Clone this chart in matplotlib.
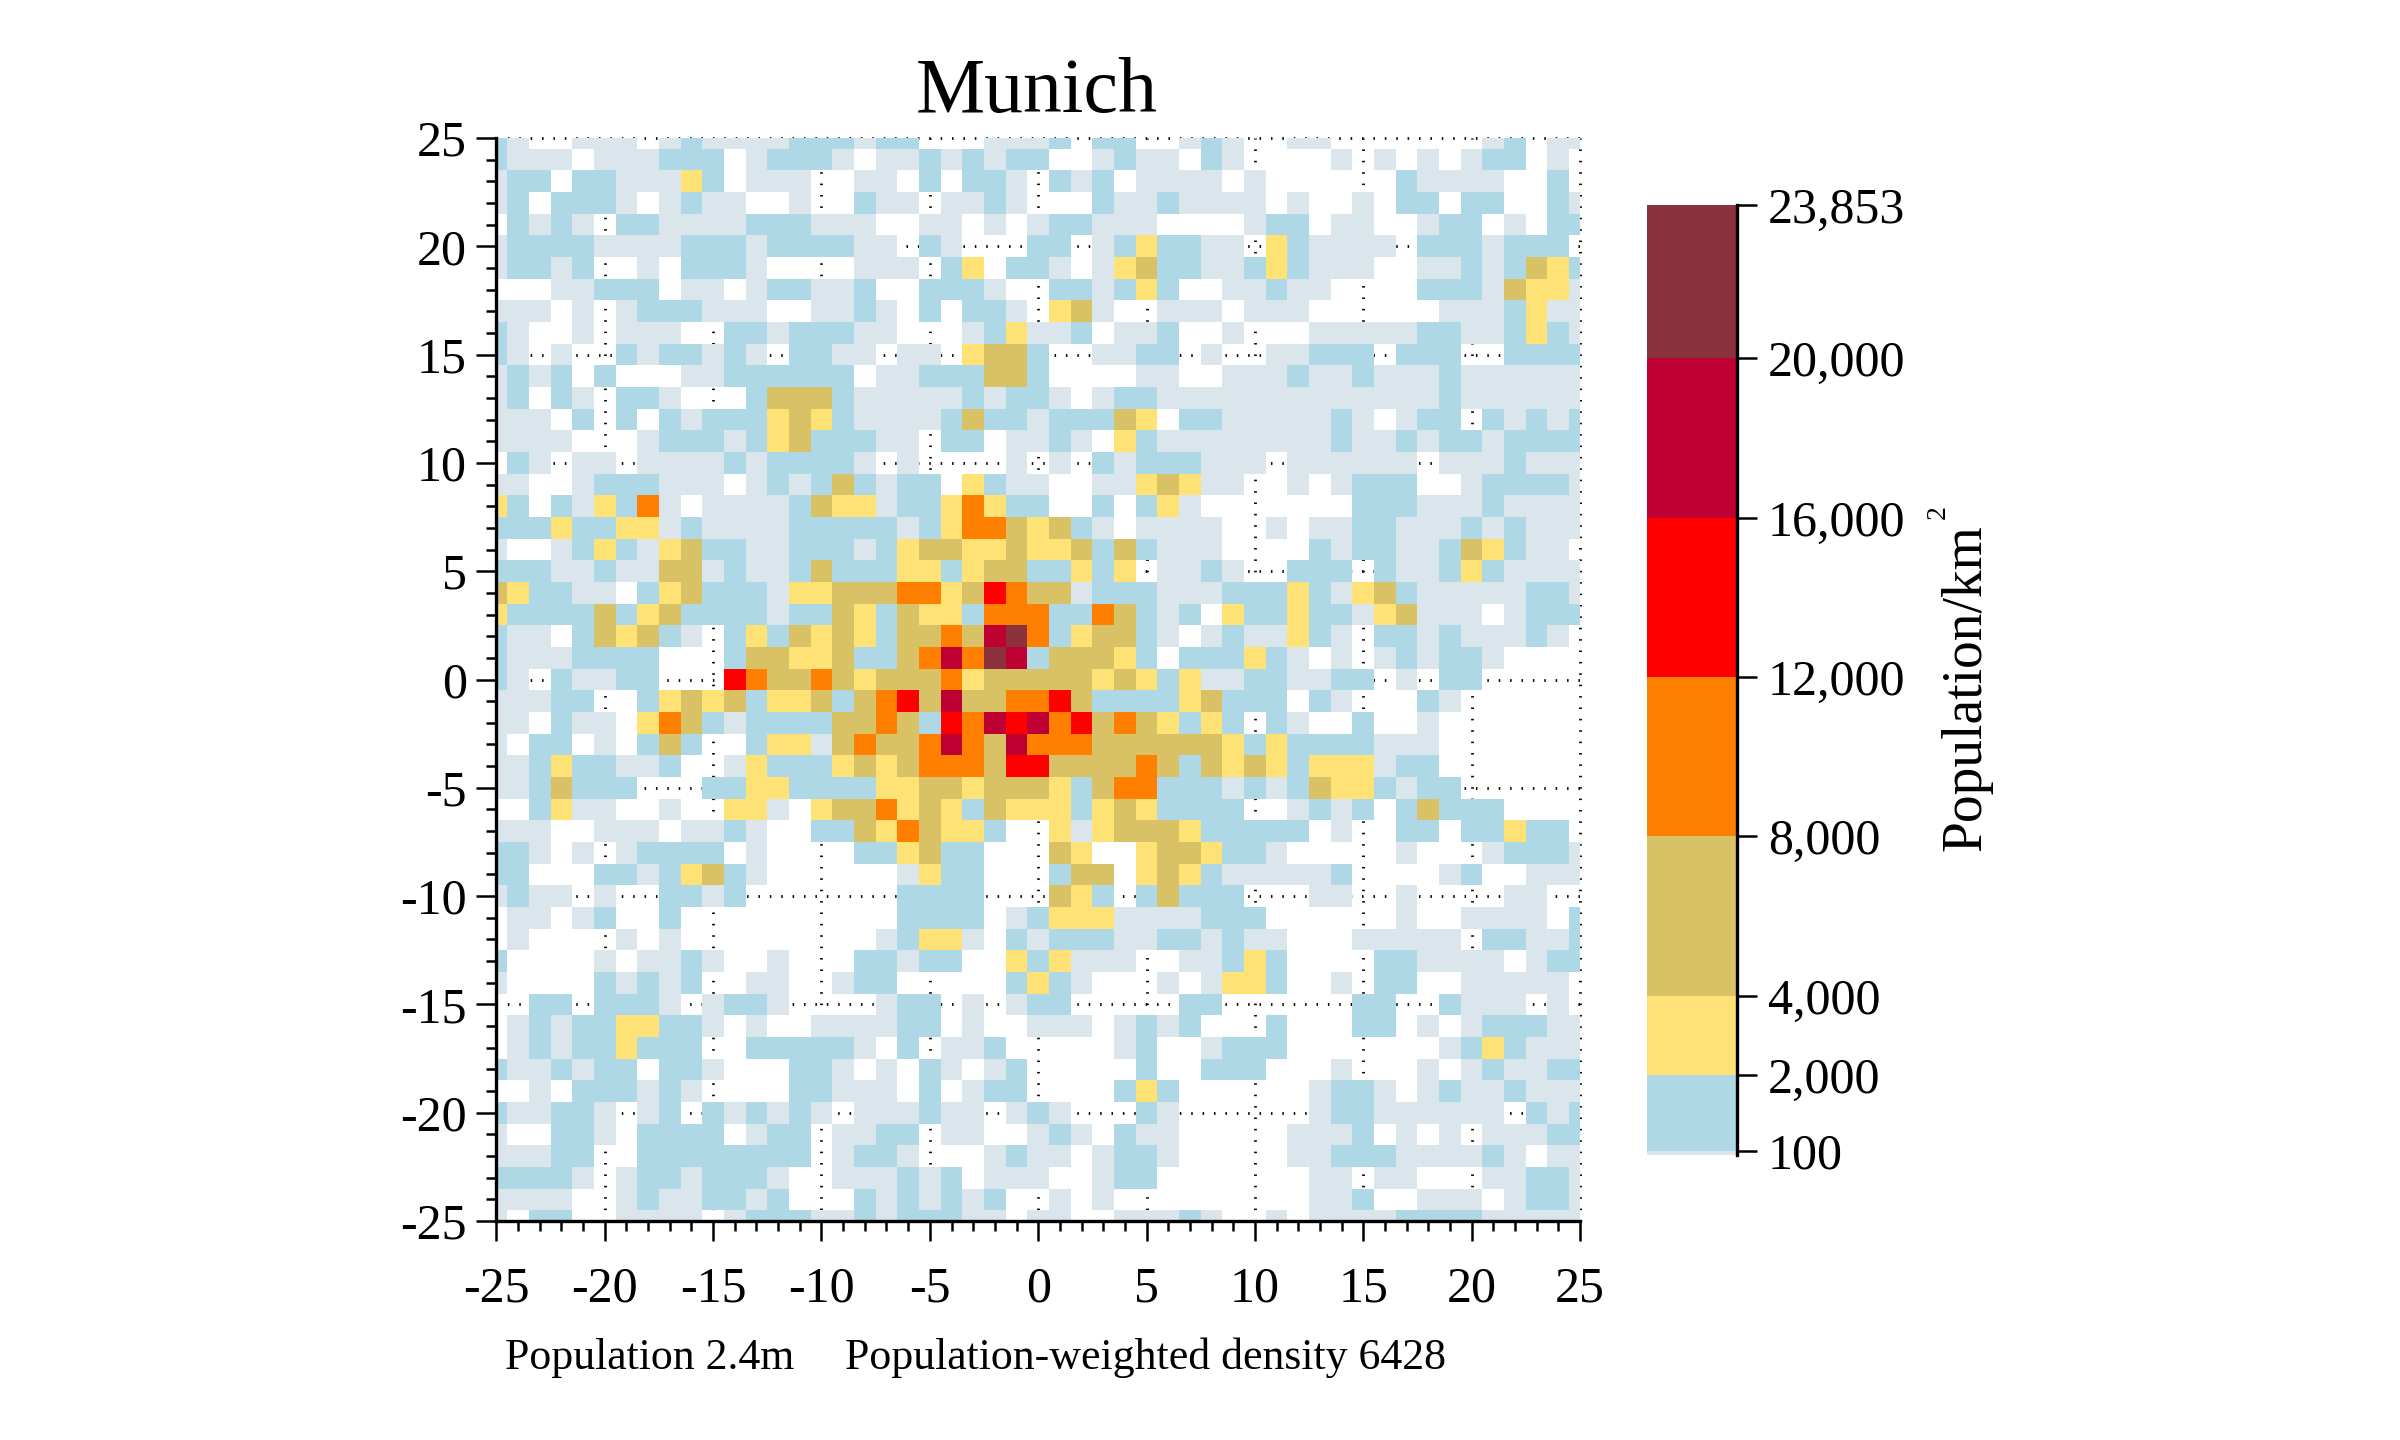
#!/usr/bin/env python
# -*- coding:utf-8 -*-
import numpy as np
import matplotlib
matplotlib.use('Agg')
import matplotlib.pyplot as plt
from matplotlib.colors import ListedColormap, BoundaryNorm
from matplotlib.ticker import MultipleLocator

plt.rcParams['font.family'] = ['Liberation Serif', 'DejaVu Serif']
plt.rcParams['axes.unicode_minus'] = False

# density band of each 1km cell, top row y=25, left column x=-25
# '.' = no data, digits index into band_values
rows = [
    "10..000.010000111011...000" "1.11..010..00.......01.00",
    "1000.000111.01110.00101011" "..0100.10....0.0.0.011.0.",
    "011.1100021.000..00.1.110." "101.0000.0......10000..1.",
    "01.1110.0100..0..100.0010." "..10010000.0..0.11.11..10",
    ".1010.110000111000..00.0.0" "11000....011.00..011.0.11",
    "0111100001110111100.10...1" "1.0121100.210000.1110111.",
    "01101..0.1110....000.12.11" "0.0231100121000..00101321",
    "...00111.00.011001..1110.." "110121..00100....11103220",
    "000.0.0111000..0010.1.110." "230..000.000......0001200",
    "10..0.000..11011100...0120" "01.001..0...0000011001210",
    "10.0..1011010.1100.00.2331" "..0011.0..00111.111..1111",
    "0101.1...00111111.00111331" "....00..00010010001000000",
    "01.10.110...13331000001011" "0.01100000000000001000000",
    "000.1.1.101112321000013110" "11132.110000010.011.10101",
    "0000...0111012311100.11.00" "10.2100000000100101101111",
    ".10.00.00001011110.0....0." "0.10111000.000000.0001000",
    "00..0111000.010131011.2100" "..0023200..0.0111..011110",
    "21.102140.0000132201124211" "..1.120.......11100010000",
    "11121122010000111110124432" "310.0000..0.0011000101000",
    "0..01210231100111012332232" "23131000....101100132100.",
    "11100100330100131112212331" "1212.0010..111.1001210000",
    "321100.1231110223334423543" "3011100011121023100000110",
    "21111312311110113213221444" "1143101.211211023000.0111",
    "100.132310.121323213343674" "123310.0100210.110100010.",
    "10001111...133223113464761" "33321.111210.0.010110....",
    "10.10011...543343233342333" "332321200110011.0.11.....",
    "00011..1232312231345363344" "53111123111.10...10......",
    "00.100.2431011113343154656" "453432121.10..1..0.......",
    "0.11.0.131..12203433464364" "443333332121111000.......",
    "001211001..021112323444355" "333343132321222011.......",
    "0013111...1122111122332333" "2134411101013221011......",
    "..1200..0..220.23342321322" "212321111..0101.13111....",
    "000..000.0010..113243221.." "202333211111.0..11.11211.",
    "110.0.01111.0....112311..." "32..2332110.....0...01110",
    "11...11012310......0211..." "133.2321000001....01..000",
    "0100.0..1101.......1111..." "321.13111...00..0....00..",
    ".00.01..1..........1111.01" "2220000111......0..0000.1",
    ".0....0.0.........01220.10" "11100110100...00000.11001",
    "1....0.0010..0...11011..21" "2000..00121....110000.011",
    "0....10101..00..011.....12" "10...0.0221..0.11..00000.",
    "..11.1110.0110....011.0.01" "1.....11......11..1000.0.",
    ".0101122110.0..000011.0..0" "00.0101...1...11.0.011100",
    ".010112111..111110.1.001.." "...01..0111.......0121000",
    "1001011.110...110.0.10.01." "....1..111...0...0.010011",
    "..0.111010....11000.1.011." "...121......0110.01001000",
    "100110.01.101010.000100.01" "0...10......011000000.101",
    "0..110.1111.011.0011.00..0" "10.100.....0001.0.0.00011",
    "00011..11111111.0110...010" "0.0110.....00111000010.00",
    "11110.01101110..000101.000" "..011.......00.00...00110",
    "0000..01001101...1010101.." "0.0.........001..000.0110",
    "0.11..0000.0111001011100.0" "0..00010..0.0000111100000",
]
band_values = [50, 1000, 3000, 6000, 10000, 14000, 18000, 22000]
levels = [0, 100, 2000, 4000, 8000, 12000, 16000, 20000, 23853]
colors = ['#dae6ec', '#aed8e5', '#ffe275', '#d9c265', '#ff8000', '#ff0000', '#bf0033', '#8c323c']
cbar_ticks = [100, 2000, 4000, 8000, 12000, 16000, 20000, 23853]
x_km = np.arange(-25, 26)
y_km = np.arange(25, -26, -1)

density = np.full((51, 51), np.nan)
for j, row in enumerate(rows):
    for i, ch in enumerate(row):
        if ch != '.':
            density[j, i] = band_values[int(ch)]

W, H = 2400.0, 1440.0
fig = plt.figure(figsize=(24, 14.4), dpi=100)
ax = fig.add_axes([496.4 / W, 1 - 1221 / H, 1083.6 / W, 1083 / H])

cmap = ListedColormap(colors)
norm = BoundaryNorm(levels, cmap.N)
mesh = ax.pcolormesh(x_km, y_km, np.ma.masked_invalid(density), cmap=cmap, norm=norm, shading='nearest')
ax.set_xlim(-25, 25)
ax.set_ylim(-25, 25)

# dotted grid sits under the cells, only seen where there is no data
ax.set_axisbelow(True)
ax.grid(True, color='black', linewidth=2, linestyle=(0, (0.55, 3.55)))
for line in ax.get_xgridlines() + ax.get_ygridlines():
    line.set_clip_on(False)

ax.xaxis.set_major_locator(MultipleLocator(5))
ax.yaxis.set_major_locator(MultipleLocator(5))
ax.xaxis.set_minor_locator(MultipleLocator(1))
ax.yaxis.set_minor_locator(MultipleLocator(1))
ax.tick_params(which='major', length=14.4, width=1.8, labelsize=36)
ax.tick_params(which='minor', length=7.2, width=1.8)
ax.tick_params(axis='x', which='major', pad=18)
ax.tick_params(axis='y', which='major', pad=7)
ax.spines['top'].set_visible(False)
ax.spines['right'].set_visible(False)
ax.spines['left'].set_linewidth(2.4)
ax.spines['bottom'].set_linewidth(2.4)

fig.text(1037 / W, 1 - 112 / H, 'Munich', fontsize=56, ha='center', va='baseline')
fig.text(505 / W, 1 - 1369 / H, 'Population 2.4m', fontsize=31.6, ha='left', va='baseline')
fig.text(845 / W, 1 - 1369 / H, 'Population-weighted density 6428', fontsize=31.6, ha='left', va='baseline')

# colour bar
cax = fig.add_axes([1647 / W, 1 - 1155 / H, 90 / W, 950 / H])
cbar = fig.colorbar(mesh, cax=cax, spacing='proportional', ticks=cbar_ticks, drawedges=False)
cbar.outline.set_visible(False)
cbar.ax.minorticks_off()
cbar.ax.set_yticklabels(['{:,}'.format(t) for t in cbar_ticks])
cbar.ax.tick_params(length=14.4, width=1.8, labelsize=36, pad=8)
cbar.ax.plot([1, 1], [0, 1], color='black', lw=2.4, transform=cbar.ax.transAxes, clip_on=False)

fig.text(1966 / W, 1 - 688 / H, 'Population/km', fontsize=40, rotation=90, ha='center', va='center')
fig.text(1938 / W, 1 - 512 / H, '2', fontsize=20, rotation=90, ha='center', va='center')

fig.savefig('out.png', dpi=100)
